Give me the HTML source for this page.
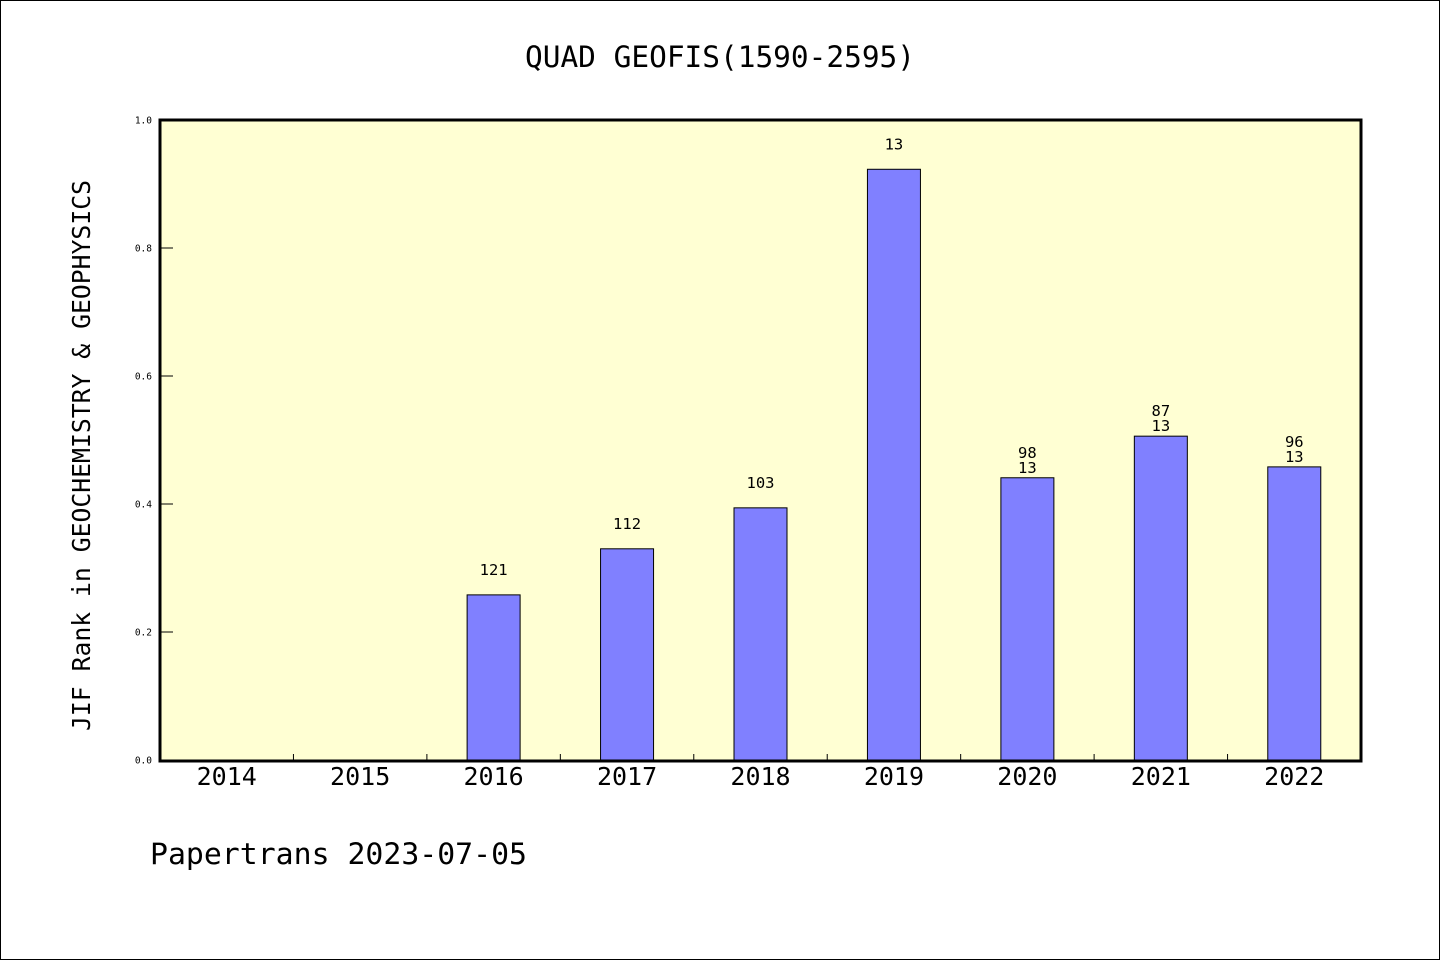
<!DOCTYPE html>
<html><head><meta charset="utf-8"><style>
html,body{margin:0;padding:0;background:#fff}
svg{display:block}
text{font-family:"DejaVu Sans Mono","Liberation Mono",monospace;fill:#000}
</style></head><body>
<svg id="chart" width="1440" height="960">
<rect x="0.5" y="0.5" width="1439" height="959" fill="#fff" stroke="#000"/>
<text x="525" y="67" font-size="29" textLength="390" lengthAdjust="spacingAndGlyphs">QUAD GEOFIS(1590-2595)</text>
<rect x="160" y="120" width="1201" height="641" fill="#ffffd3"/>
<g id="bars"></g>
<rect x="160" y="120" width="1201" height="641" fill="none" stroke="#000" stroke-width="3"/>
<text transform="translate(90,731) rotate(-90)" font-size="24.5" textLength="551" lengthAdjust="spacingAndGlyphs">JIF Rank in GEOCHEMISTRY &amp; GEOPHYSICS</text>
<text x="150" y="864" font-size="29.5" textLength="377" lengthAdjust="spacingAndGlyphs">Papertrans 2023-07-05</text>
</svg>
<script>
const categories=["2014","2015","2016","2017","2018","2019","2020","2021","2022"];
const values=[null,null,0.258,0.330,0.394,0.923,0.441,0.506,0.458];
const ranks=["","","121","112","103","13","98","87","96"];
const subRanks=["","","","","","","13","13","13"];
const yTicks=[0,0.2,0.4,0.6,0.8,1.0];
const yTickLabels=["0.0","0.2","0.4","0.6","0.8","1.0"];
const NS="http://www.w3.org/2000/svg";
const X0=160,X1=1361,Y0=760,Y1=120;
const step=(X1-X0)/categories.length;
function xc(i){return X0+step*(i+0.5);}
function y(v){return Y0-(Y0-Y1)*v;}
const svg=document.getElementById('chart');
const g=document.getElementById('bars');
function mk(t,a,p){const e=document.createElementNS(NS,t);for(const k in a)e.setAttribute(k,a[k]);(p||svg).appendChild(e);return e;}
yTicks.forEach((v,i)=>{
 const l=mk('line',{x1:160,x2:173,y1:y(v),y2:y(v),stroke:'#000','stroke-width':1});
 
 
 const t=mk('text',{x:152,y:y(v)+3.5,'text-anchor':'end','font-size':9.5});
 t.textContent=yTickLabels[i];
 
 
});
categories.forEach((c,i)=>{
 if(i>0){const l=mk('line',{x1:X0+step*i,x2:X0+step*i,y1:Y0-6,y2:Y0,stroke:'#000','stroke-width':1});
 
 }
 const t=mk('text',{x:xc(i),y:785,'text-anchor':'middle','font-size':25});
 t.textContent=c;
 
 
 const v=values[i];
 if(v==null)return;
 const b=mk('rect',{x:xc(i)-26.5,y:y(v),width:53,height:Y0-y(v),fill:'#8080ff',stroke:'#000','stroke-width':1},g);
 
 
 const t1=mk('text',{x:xc(i),y:y(v)-20,'text-anchor':'middle','font-size':15.5});
 t1.textContent=ranks[i];
 
 
 if(subRanks[i]){
  const t2=mk('text',{x:xc(i),y:y(v)-5,'text-anchor':'middle','font-size':15.5});
  t2.textContent=subRanks[i];
  
  
 }
});
</script>
</body></html>
